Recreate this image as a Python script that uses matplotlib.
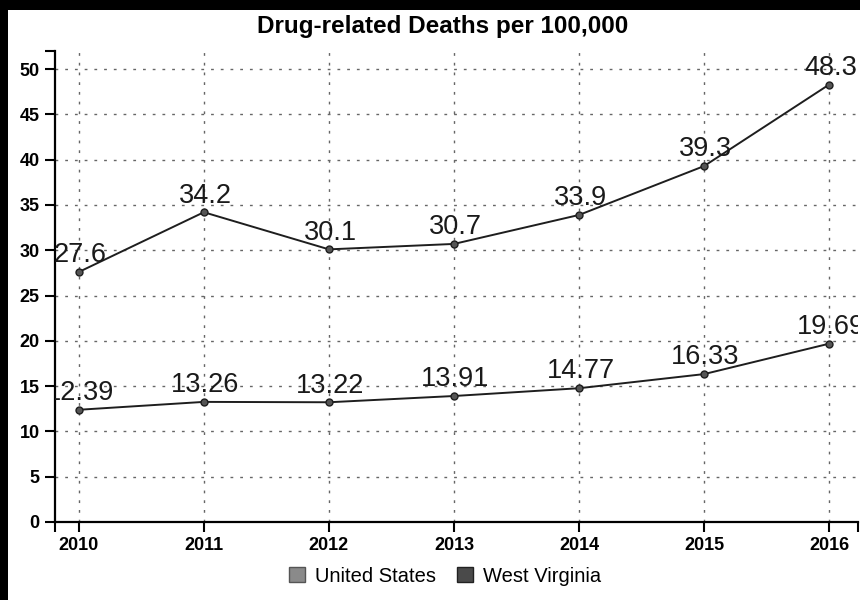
import matplotlib
matplotlib.use("Agg")
import matplotlib.pyplot as plt
from matplotlib.patches import Patch, Rectangle

plt.rcParams['font.family'] = ['Liberation Sans', 'DejaVu Sans']

years = [2010, 2011, 2012, 2013, 2014, 2015, 2016]
us_rate = [12.39, 13.26, 13.22, 13.91, 14.77, 16.33, 19.69]
wv_rate = [27.6, 34.2, 30.1, 30.7, 33.9, 39.3, 48.3]
y_ticks = [0, 5, 10, 15, 20, 25, 30, 35, 40, 45, 50]

fig = plt.figure(figsize=(8.6, 6.0), dpi=100)
# dark frame around the page, white sheet inside
fig.patch.set_facecolor('black')
fig.patches.append(Rectangle((8 / 860, 0), 1, 1 - 10 / 600, transform=fig.transFigure,
                             facecolor='white', edgecolor='none', zorder=-1))

ax = fig.add_axes([55 / 860, 78 / 600, 803 / 860, 471 / 600])
ax.set_facecolor('none')

for vals in (us_rate, wv_rate):
    ax.plot(years, vals, color='#1e1e1e', linewidth=1.4, marker='o', markersize=5,
            markerfacecolor='#555555', markeredgecolor='#1e1e1e', markeredgewidth=1, zorder=3)
    for x, v in zip(years, vals):
        ax.annotate(f'{v:g}', (x, v), xytext=(1, 7), textcoords='offset points',
                    ha='center', va='baseline', fontsize=19.5, color='#1a1a1a',
                    annotation_clip=False, clip_on=True, zorder=4)

ax.set_xlim(2009.81, 2016.23)
ax.set_ylim(0, 52.0)
ax.set_xticks(years)
ax.set_xticklabels([str(y) for y in years], fontsize=13, fontweight='bold')
ax.set_yticks(y_ticks)
ax.set_yticklabels([str(t) for t in y_ticks], fontsize=13, fontweight='bold')
# end ticks at the domain limits
ax.set_xticks([2009.81, 2016.23], minor=True)
ax.set_yticks([52.0], minor=True)
ax.tick_params(axis='both', which='both', length=7, width=1.5, color='black', pad=4)

ax.grid(True, which='major', color='#666666', linestyle=(0, (2, 5)), linewidth=1)
for side in ('top', 'right'):
    ax.spines[side].set_visible(False)
for side in ('left', 'bottom'):
    ax.spines[side].set_linewidth(1.6)

fig.text(443 / 860, 1 - 27 / 600, 'Drug-related Deaths per 100,000',
         ha='center', va='center', fontsize=17.5, fontweight='bold')

handles = [Patch(facecolor='#8a8a8a', edgecolor='#555555', label='United States'),
           Patch(facecolor='#4a4a4a', edgecolor='#222222', label='West Virginia')]
fig.legend(handles=handles, loc='center', bbox_to_anchor=(445 / 860, 1 - 576 / 600),
           ncol=2, frameon=False, fontsize=14.5, handlelength=0.8, handleheight=0.8,
           handletextpad=0.5, columnspacing=1.0)

fig.savefig('out.png', dpi=100)
